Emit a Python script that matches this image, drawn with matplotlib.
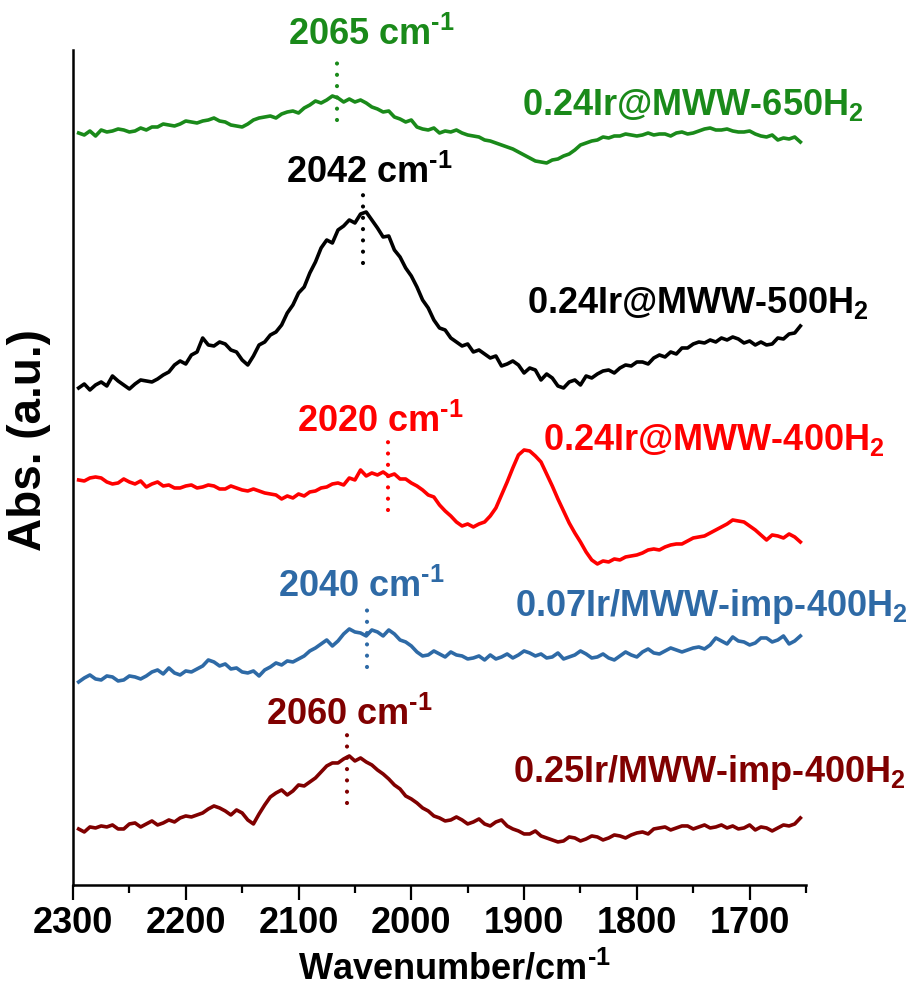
import numpy as np
import matplotlib
matplotlib.use("Agg")
import matplotlib.pyplot as plt
from matplotlib.ticker import MultipleLocator

plt.rcParams['font.family'] = ['Liberation Sans', 'DejaVu Sans']
plt.rcParams['font.weight'] = 'bold'
plt.rcParams['mathtext.fontset'] = 'custom'
plt.rcParams['mathtext.rm'] = 'Liberation Sans:bold'
plt.rcParams['mathtext.bf'] = 'Liberation Sans:bold'
plt.rcParams['mathtext.default'] = 'rm'

# wavenumber grid (cm-1), 2295 -> 1655 every 5
wavenumber = np.arange(2295, 1650, -5)

# spectra, relative absorbance (x0.01 a.u.)
abs_650 = [0, -2, 2, -3, 3, 1, 2, 4, 3, 1,
           2, 5, 3, 6, 6, 9, 8, 7, 9, 12,
           11, 10, 12, 13, 15, 12, 11, 8, 7, 6,
           9, 13, 15, 16, 17, 15, 19, 21, 22, 20,
           25, 28, 32, 30, 33, 37, 35, 31, 34, 31,
           33, 30, 26, 24, 21, 22, 16, 14, 11, 13,
           6, 4, 3, 5, 0, 2, 1, 3, 0, -2,
           -3, -4, -7, -8, -10, -12, -14, -16, -19, -22,
           -25, -28, -29, -30, -27, -26, -23, -21, -17, -12,
           -10, -8, -7, -4, -5, -3, -3, -1, -2, -3,
           -2, 0, -2, -1, -1, -3, 0, 1, -1, 0,
           2, 4, 5, 3, 3, 4, 2, 1, 1, 2,
           -1, -3, -4, -2, -7, -5, -6, -4, -9]
abs_500 = [0, 4, -2, 3, 6, 2, 12, 7, 3, -1,
           4, 8, 7, 6, 9, 13, 16, 23, 27, 24,
           33, 36, 50, 43, 42, 46, 44, 38, 36, 28,
           23, 32, 43, 46, 53, 56, 63, 75, 83, 95,
           101, 115, 126, 140, 148, 145, 158, 162, 168, 165,
           174, 176, 168, 160, 151, 152, 138, 131, 120, 112,
           101, 88, 80, 68, 60, 58, 50, 46, 42, 44,
           36, 38, 34, 30, 32, 22, 24, 27, 23, 15,
           20, 18, 8, 14, 10, 2, 0, 6, 8, 3,
           12, 10, 14, 17, 18, 15, 20, 23, 22, 26,
           26, 24, 30, 33, 31, 36, 34, 40, 40, 44,
           46, 45, 48, 46, 50, 48, 51, 49, 45, 47,
           43, 46, 43, 44, 50, 49, 54, 55, 62]
abs_400 = [0, -1, 2, 3, 2, -2, -4, -3, 1, -2,
           -4, -1, -7, -4, -2, -6, -5, -8, -8, -6,
           -5, -8, -7, -5, -6, -9, -9, -6, -8, -10,
           -11, -9, -11, -13, -14, -15, -19, -16, -18, -14,
           -16, -12, -11, -8, -7, -4, -3, -5, 2, 0,
           10, 4, 7, 5, 8, 4, 6, 1, 1, -3,
           -6, -10, -15, -17, -25, -31, -36, -42, -46, -44,
           -47, -44, -42, -36, -28, -15, -2, 12, 25, 30,
           29, 24, 18, 6, -6, -19, -31, -43, -53, -62,
           -72, -80, -84, -81, -82, -79, -80, -77, -76, -75,
           -73, -70, -69, -70, -67, -65, -64, -64, -61, -58,
           -57, -56, -53, -50, -47, -44, -40, -41, -42, -46,
           -50, -55, -60, -55, -56, -58, -54, -57, -62]
abs_imp07 = [0, 4, 7, 3, 2, 6, 5, 1, 2, 6,
             5, 3, 6, 10, 12, 8, 14, 9, 7, 11,
             10, 13, 16, 22, 20, 16, 18, 13, 14, 10,
             9, 11, 6, 12, 15, 19, 17, 21, 20, 23,
             26, 31, 34, 38, 42, 36, 41, 48, 53, 50,
             49, 46, 52, 50, 46, 52, 48, 42, 40, 36,
             30, 26, 27, 31, 28, 25, 30, 27, 26, 23,
             24, 26, 22, 27, 23, 25, 28, 24, 27, 31,
             29, 26, 28, 24, 25, 29, 23, 25, 27, 31,
             28, 24, 25, 28, 24, 22, 26, 30, 27, 25,
             30, 33, 29, 28, 31, 34, 32, 30, 32, 34,
             35, 33, 37, 44, 41, 38, 45, 41, 40, 37,
             39, 44, 44, 40, 42, 46, 38, 41, 46]
abs_imp25 = [0, -3, 2, 1, 3, 2, 4, 0, 0, 5,
             6, 2, 5, 8, 4, 6, 9, 7, 11, 13,
             12, 14, 16, 20, 23, 21, 18, 14, 19, 16,
             9, 5, 15, 24, 32, 36, 39, 34, 38, 44,
             43, 47, 51, 57, 63, 66, 66, 70, 73, 68,
             71, 67, 64, 59, 55, 50, 44, 40, 33, 30,
             26, 21, 18, 13, 11, 8, 9, 12, 9, 5,
             7, 10, 5, 3, 7, 9, 3, 0, -2, -5,
             -5, -2, -7, -9, -11, -13, -12, -8, -9, -12,
             -10, -7, -8, -11, -9, -6, -7, -9, -6, -4,
             -3, -5, 0, 1, 2, -1, 1, 3, 3, 0,
             2, 4, 1, 2, 4, 1, 3, 0, 1, 4,
             -1, 2, 1, -2, 1, 4, 3, 5, 11]

labels = [r'0.24Ir@MWW-650H$_2$', r'0.24Ir@MWW-500H$_2$', r'0.24Ir@MWW-400H$_2$',
          r'0.07Ir/MWW-imp-400H$_2$', r'0.25Ir/MWW-imp-400H$_2$']
spectra = [abs_650, abs_500, abs_400, abs_imp07, abs_imp25]
offsets = [7.52, 4.97, 4.05, 2.03, 0.56]
colors = ['#1a8a1a', 'black', '#ff0000', '#2e6aa6', '#800000']

# peak positions and the text shown above them
peaks = [2066, 2043, 2021, 2039, 2057]
peak_text = [r'2065 cm$^{\text{-}1}$', r'2042 cm$^{\text{-}1}$', r'2020 cm$^{\text{-}1}$',
             r'2040 cm$^{\text{-}1}$', r'2060 cm$^{\text{-}1}$']
# dotted marker extent relative to each offset (a.u.)
peak_span = [(0.13, 0.70), (1.25, 1.95), (-0.30, 0.40), (0.15, 0.74), (0.26, 0.96)]
peak_text_pos = [(2035, 8.50), (2037, 7.12), (2027, 4.63), (2044, 2.98), (2055, 1.70)]
label_pos = [(1902, 7.80), (1897, 5.82), (1883, 4.45), (1908, 2.78), (1910, 1.12)]

fig = plt.figure(figsize=(9.09, 9.94), dpi=100)
ax = fig.add_axes([0.0803, 0.1097, 0.8064, 0.8400])

for i in range(len(spectra)):
    assert len(spectra[i]) == len(wavenumber)
    y = offsets[i] + np.array(spectra[i]) / 100.0
    ax.plot(wavenumber, y, color=colors[i], lw=2.6, solid_joinstyle='round')
    lo, hi = peak_span[i]
    ax.plot([peaks[i], peaks[i]], [offsets[i] + lo, offsets[i] + hi], color=colors[i],
            lw=3.0, linestyle=(0, (0.01, 2.7)), dash_capstyle='round')
    ax.text(peak_text_pos[i][0], peak_text_pos[i][1], peak_text[i], color=colors[i],
            fontsize=26, fontweight='bold', ha='center', va='center')
    ax.text(label_pos[i][0], label_pos[i][1], labels[i], color=colors[i],
            fontsize=26, fontweight='bold', ha='left', va='center')

ax.set_xlim(2300, 1650)
ax.set_ylim(0, 8.35)
ax.spines['top'].set_visible(False)
ax.spines['right'].set_visible(False)
ax.spines['left'].set_linewidth(1.8)
ax.spines['bottom'].set_linewidth(1.8)
ax.set_yticks([])
ax.xaxis.set_major_locator(MultipleLocator(100))
ax.xaxis.set_minor_locator(MultipleLocator(50))
ax.tick_params(axis='x', which='major', direction='out', length=11, width=1.6,
               labelsize=26, pad=4)
ax.tick_params(axis='x', which='minor', direction='out', length=5.5, width=1.6)
for t in ax.get_xticklabels():
    t.set_fontweight('bold')

ax.set_xlabel(r'Wavenumber/cm$^{\text{-}1}$', fontsize=26, fontweight='bold')
ax.xaxis.set_label_coords(0.521, -0.080)
ax.set_ylabel('Abs. (a.u.)', fontsize=33, fontweight='bold')
ax.yaxis.set_label_coords(-0.030, 0.533)

fig.savefig('out.png', dpi=100)
